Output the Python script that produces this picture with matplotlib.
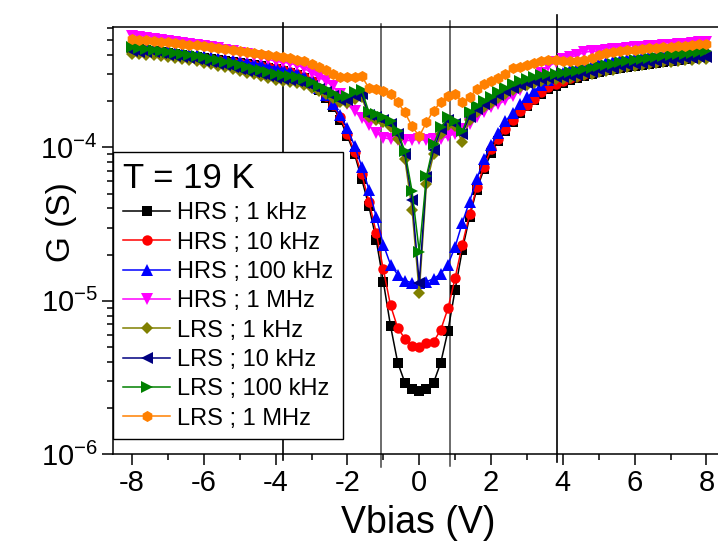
import numpy as np
import matplotlib
matplotlib.use("Agg")
import matplotlib.pyplot as plt
from matplotlib.ticker import LogLocator, NullFormatter, MultipleLocator
from matplotlib.transforms import blended_transform_factory

# --- DATA (G in units of 1e-4 S) ---
vbias = np.round(np.arange(-8.0, 8.01, 0.2), 1)

hrs_1k = np.array([
    4.37, 4.37, 4.30, 4.24, 4.17, 4.11, 4.05, 3.99, 3.93, 3.87,
    3.81, 3.76, 3.70, 3.64, 3.59, 3.54, 3.49, 3.43, 3.38, 3.28,
    3.23, 3.14, 3.05, 2.96, 2.82, 2.66, 2.36, 2.09, 1.83, 1.52,
    1.18, 0.900, 0.618, 0.412, 0.250, 0.133, 0.0685, 0.0395, 0.0292, 0.0266,
    0.0258, 0.0266, 0.0292, 0.0395, 0.0637, 0.118, 0.215, 0.350, 0.531, 0.718,
    0.913, 1.10, 1.27, 1.46, 1.67, 1.85, 2.03, 2.22, 2.39, 2.50,
    2.62, 2.74, 2.82, 2.91, 3.00, 3.09, 3.19, 3.23, 3.28, 3.33,
    3.38, 3.43, 3.49, 3.54, 3.59, 3.64, 3.70, 3.76, 3.81, 3.87, 3.93])

hrs_10k = np.array([
    4.43, 4.37, 4.30, 4.24, 4.17, 4.11, 4.05, 3.99, 3.93, 3.87,
    3.81, 3.76, 3.70, 3.64, 3.59, 3.54, 3.49, 3.43, 3.38, 3.33,
    3.28, 3.19, 3.09, 3.00, 2.87, 2.70, 2.39, 2.15, 1.88, 1.57,
    1.23, 0.927, 0.666, 0.443, 0.278, 0.160, 0.0932, 0.0665, 0.0565, 0.0508,
    0.0500, 0.0532, 0.0540, 0.0647, 0.0890, 0.141, 0.232, 0.365, 0.549, 0.749,
    0.970, 1.13, 1.31, 1.50, 1.72, 1.88, 2.06, 2.29, 2.47, 2.58,
    2.70, 2.82, 2.91, 3.00, 3.09, 3.19, 3.23, 3.33, 3.38, 3.43,
    3.49, 3.54, 3.59, 3.64, 3.70, 3.76, 3.81, 3.87, 3.93, 3.99, 4.05])

hrs_100k = np.array([
    4.57, 4.50, 4.43, 4.37, 4.30, 4.24, 4.17, 4.11, 4.05, 3.99,
    3.93, 3.87, 3.81, 3.76, 3.70, 3.64, 3.59, 3.54, 3.49, 3.38,
    3.33, 3.23, 3.14, 3.05, 2.91, 2.74, 2.43, 2.19, 1.91, 1.62,
    1.33, 1.02, 0.749, 0.531, 0.354, 0.232, 0.172, 0.148, 0.135, 0.131,
    0.131, 0.133, 0.139, 0.150, 0.172, 0.225, 0.323, 0.443, 0.618, 0.835,
    1.03, 1.25, 1.48, 1.67, 1.91, 2.12, 2.32, 2.54, 2.74, 2.91,
    3.05, 3.19, 3.28, 3.38, 3.43, 3.54, 3.59, 3.64, 3.70, 3.76,
    3.81, 3.87, 3.93, 3.93, 3.99, 4.05, 4.05, 4.11, 4.17, 4.24, 4.30])

hrs_1M = np.array([
    5.32, 5.24, 5.16, 5.08, 5.00, 4.93, 4.85, 4.78, 4.71, 4.64,
    4.57, 4.50, 4.43, 4.30, 4.24, 4.11, 4.05, 3.93, 3.87, 3.76,
    3.64, 3.59, 3.54, 3.43, 3.28, 3.05, 2.87, 2.70, 2.50, 2.22,
    1.91, 1.72, 1.55, 1.39, 1.25, 1.16, 1.13, 1.11, 1.11, 1.11,
    1.13, 1.11, 1.13, 1.14, 1.18, 1.23, 1.31, 1.43, 1.57, 1.69,
    1.83, 1.91, 2.03, 2.15, 2.36, 2.54, 2.70, 3.05, 3.38, 3.59,
    3.76, 3.87, 3.99, 4.17, 4.24, 4.24, 4.30, 4.37, 4.37, 4.43,
    4.50, 4.50, 4.57, 4.57, 4.64, 4.64, 4.71, 4.71, 4.78, 4.85, 4.85])

lrs_1k = np.array([
    4.05, 4.05, 3.99, 3.99, 3.93, 3.87, 3.81, 3.76, 3.70, 3.64,
    3.54, 3.49, 3.38, 3.33, 3.23, 3.14, 3.05, 3.00, 2.91, 2.82,
    2.74, 2.70, 2.66, 2.62, 2.54, 2.43, 2.32, 2.22, 2.09, 1.97,
    1.94, 2.06, 2.12, 1.57, 1.52, 1.46, 1.35, 1.13, 0.835, 0.393,
    0.113, 0.574, 0.900, 1.22, 1.41, 1.37, 1.08, 1.52, 1.69, 1.83,
    1.94, 2.09, 2.22, 2.36, 2.47, 2.54, 2.62, 2.70, 2.74, 2.78,
    2.78, 2.82, 2.87, 2.96, 3.00, 3.09, 3.14, 3.19, 3.28, 3.33,
    3.38, 3.43, 3.49, 3.54, 3.59, 3.59, 3.64, 3.70, 3.70, 3.76, 3.76])

lrs_10k = np.array([
    4.24, 4.17, 4.17, 4.17, 4.11, 3.99, 3.93, 3.87, 3.81, 3.76,
    3.64, 3.59, 3.49, 3.43, 3.33, 3.23, 3.14, 3.09, 3.00, 2.91,
    2.82, 2.78, 2.74, 2.70, 2.62, 2.50, 2.39, 2.29, 2.15, 2.03,
    2.03, 2.15, 2.22, 1.62, 1.57, 1.52, 1.43, 1.23, 0.900, 0.457,
    0.131, 0.637, 0.956, 1.31, 1.52, 1.43, 1.23, 1.59, 1.77, 1.91,
    2.03, 2.19, 2.32, 2.43, 2.54, 2.62, 2.70, 2.78, 2.82, 2.87,
    2.87, 2.91, 2.96, 3.05, 3.09, 3.19, 3.23, 3.28, 3.38, 3.43,
    3.49, 3.54, 3.59, 3.64, 3.70, 3.70, 3.76, 3.81, 3.81, 3.87, 3.87])

lrs_100k = np.array([
    4.50, 4.43, 4.37, 4.30, 4.24, 4.17, 4.11, 4.05, 3.99, 3.93,
    3.87, 3.76, 3.70, 3.59, 3.54, 3.43, 3.33, 3.23, 3.19, 3.09,
    3.00, 2.96, 2.91, 2.87, 2.78, 2.66, 2.50, 2.39, 2.25, 2.12,
    2.15, 2.29, 2.36, 1.69, 1.64, 1.57, 1.48, 1.27, 0.941, 0.516,
    0.209, 0.646, 1.05, 1.35, 1.57, 1.48, 1.27, 1.69, 1.85, 2.00,
    2.12, 2.29, 2.43, 2.58, 2.70, 2.78, 2.87, 2.96, 3.00, 3.00,
    3.05, 3.09, 3.14, 3.23, 3.28, 3.38, 3.43, 3.49, 3.59, 3.64,
    3.70, 3.76, 3.81, 3.87, 3.93, 3.99, 4.05, 4.05, 4.11, 4.17, 4.24])

lrs_1M = np.array([
    5.08, 5.00, 5.00, 4.93, 4.85, 4.85, 4.78, 4.71, 4.64, 4.64,
    4.57, 4.50, 4.43, 4.37, 4.30, 4.24, 4.17, 4.11, 4.05, 3.99,
    3.93, 3.87, 3.81, 3.70, 3.64, 3.49, 3.33, 3.19, 3.00, 2.87,
    2.87, 2.87, 2.91, 2.43, 2.39, 2.32, 2.22, 1.97, 1.69, 1.37,
    1.18, 1.46, 1.74, 1.97, 2.15, 2.22, 1.97, 2.12, 2.39, 2.58,
    2.70, 2.82, 3.00, 3.28, 3.33, 3.43, 3.54, 3.64, 3.70, 3.70,
    3.64, 3.64, 3.64, 3.70, 3.81, 3.99, 4.11, 4.17, 4.24, 4.30,
    4.30, 4.37, 4.43, 4.43, 4.50, 4.50, 4.57, 4.57, 4.64, 4.71, 4.71])

labels = ["HRS ; 1 kHz", "HRS ; 10 kHz", "HRS ; 100 kHz", "HRS ; 1 MHz",
          "LRS ; 1 kHz", "LRS ; 10 kHz", "LRS ; 100 kHz", "LRS ; 1 MHz"]
vlines_x = [-3.79, -1.06, 0.87, 3.84]

# --- STYLE ---
plt.rcParams["font.family"] = "Liberation Sans"
plt.rcParams["mathtext.fontset"] = "custom"
plt.rcParams["mathtext.rm"] = "Liberation Sans"
plt.rcParams["mathtext.default"] = "regular"

series = [hrs_1k, hrs_10k, hrs_100k, hrs_1M, lrs_1k, lrs_10k, lrs_100k, lrs_1M]
colors = ["black", "red", "blue", "magenta", "#808000", "#000080", "#008000", "#ff8000"]
markers = ["s", "o", "^", "v", "D", "<", ">", "h"]
msizes = [6.5, 7.5, 8.5, 8.5, 6.0, 8.5, 8.5, 8.0]

fig = plt.figure(figsize=(7.18, 5.43), dpi=100)
ax = fig.add_axes([113 / 718, 89 / 543, 615 / 718, 427 / 543])

for g, c, m, ms, lab in zip(series, colors, markers, msizes, labels):
    ax.plot(vbias, g * 1e-4, color=c, marker=m, markersize=ms, markeredgewidth=0,
            linewidth=1.1, label=lab)

ax.set_yscale("log")
ax.set_xlim(-8.53, 8.6)
ax.set_ylim(1e-6, 6.1e-4)

# vertical guide lines drawn slightly past the frame
trans = blended_transform_factory(ax.transData, ax.transAxes)
vcols = ["black", "#444444", "#444444", "black"]
vwidths = [1.2, 1.1, 1.1, 1.2]
vtops = [1.009, 1.007, 1.014, 1.028]
vbots = [-0.014, -0.03, -0.028, -0.019]
for xv, vc, vw, top, bot in zip(vlines_x, vcols, vwidths, vtops, vbots):
    ax.plot([xv, xv], [bot, top], color=vc, linewidth=vw, transform=trans,
            clip_on=False, zorder=1)

ax.set_xticks([-8, -6, -4, -2, 0, 2, 4, 6, 8])
ax.set_xticklabels(["-8", "-6", "-4", "-2", "0", "2", "4", "6", "8"])
ax.xaxis.set_minor_locator(MultipleLocator(1))
ax.set_yticks([1e-6, 1e-5, 1e-4])
ax.set_yticklabels([r"$10^{-6}$", r"$10^{-5}$", r"$10^{-4}$"])
ax.yaxis.set_minor_locator(LogLocator(base=10, subs=np.arange(2, 10)))
ax.yaxis.set_minor_formatter(NullFormatter())

ax.tick_params(axis="both", which="major", direction="out", length=8, width=1.1,
               labelsize=21, pad=3)
ax.tick_params(axis="both", which="minor", direction="out", length=4, width=1.1)
ax.tick_params(top=False, right=False)
for sp in ax.spines.values():
    sp.set_linewidth(1.1)

ax.set_xlabel("Vbias (V)", fontsize=27)
ax.xaxis.set_label_coords(0.496, -0.162)
ax.xaxis.label.set_va("center")
ax.set_ylabel("G (S)", fontsize=24)
ax.yaxis.set_label_coords(-0.083, 0.543)
ax.yaxis.label.set_va("center")

leg = ax.legend(loc="upper left", bbox_to_anchor=(0, 0.707), borderaxespad=0,
                fontsize=17, title="T = 19 K", title_fontsize=25, alignment="left",
                handlelength=2.0, handletextpad=0.3, labelspacing=0.31,
                borderpad=0.42, fancybox=False, framealpha=1, edgecolor="black")
leg.get_frame().set_linewidth(1.0)
leg.set_zorder(5)

fig.savefig("out.png", dpi=100)
